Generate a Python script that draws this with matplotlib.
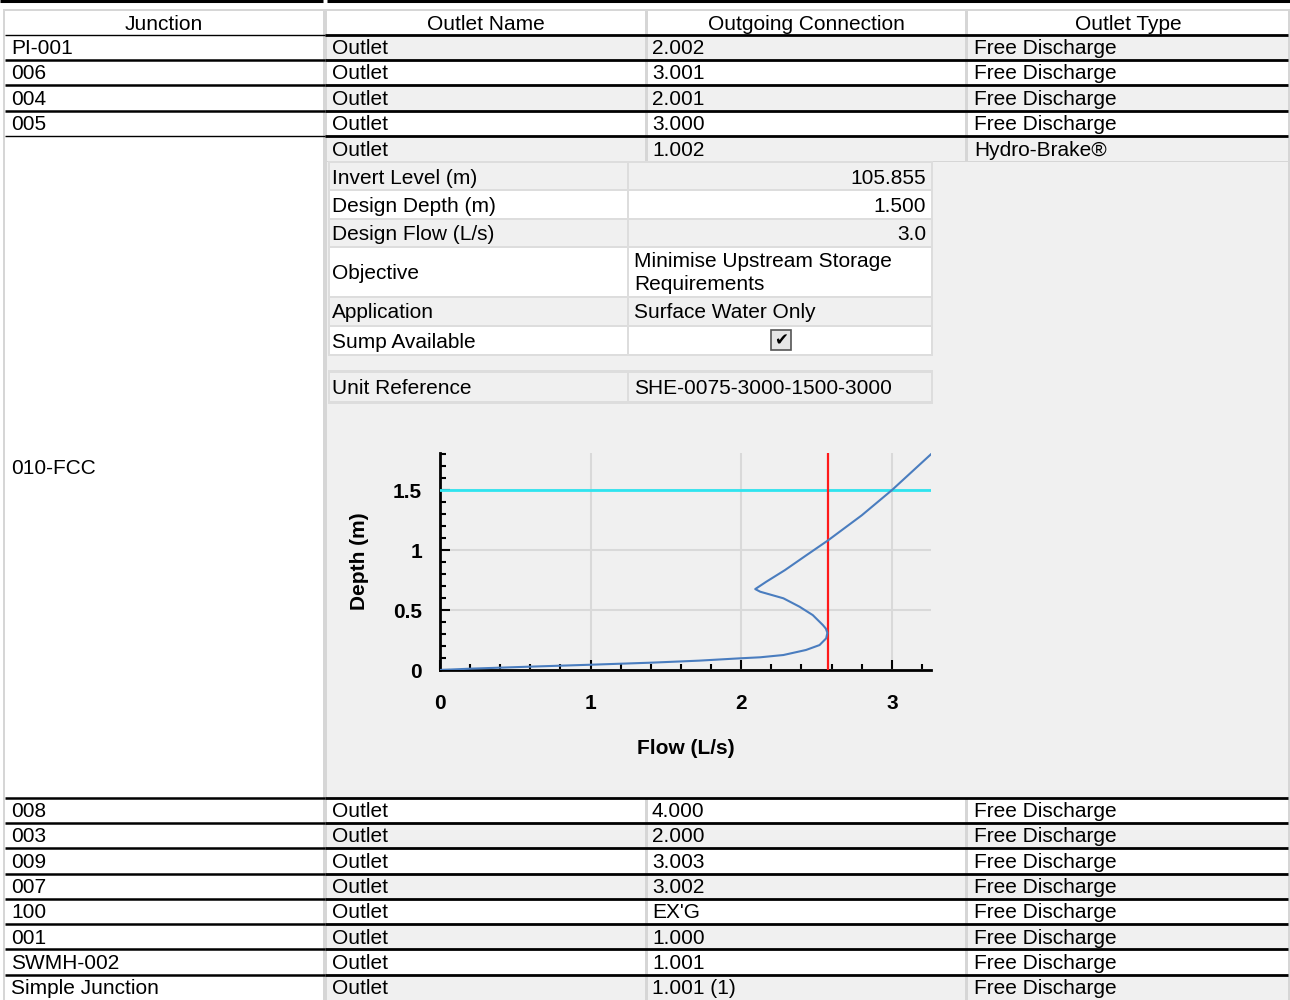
import matplotlib
matplotlib.use('Agg')
import matplotlib.pyplot as plt
from matplotlib.patches import Rectangle
from matplotlib.ticker import MultipleLocator, FuncFormatter

plt.rcParams['font.family'] = ['Liberation Sans', 'DejaVu Sans']

# ---------------- data ----------------
columns = ["Junction", "Outlet Name", "Outgoing Connection", "Outlet Type"]
junctions = ["PI-001", "006", "004", "005", "010-FCC", "008", "003", "009",
             "007", "100", "001", "SWMH-002", "Simple Junction"]
outlet_names = ["Outlet", "Outlet", "Outlet", "Outlet", "Outlet", "Outlet", "Outlet",
                "Outlet", "Outlet", "Outlet", "Outlet", "Outlet", "Outlet"]
connections = ["2.002", "3.001", "2.001", "3.000", "1.002", "4.000", "2.000",
               "3.003", "3.002", "EX'G", "1.000", "1.001", "1.001 (1)"]
outlet_types = ["Free Discharge", "Free Discharge", "Free Discharge", "Free Discharge",
                "Hydro-Brake®", "Free Discharge", "Free Discharge", "Free Discharge",
                "Free Discharge", "Free Discharge", "Free Discharge", "Free Discharge",
                "Free Discharge"]

detail_labels = ["Invert Level (m)", "Design Depth (m)", "Design Flow (L/s)",
                 "Objective", "Application", "Sump Available", "Unit Reference"]
detail_values = ["105.855", "1.500", "3.0",
                 "Minimise Upstream Storage\nRequirements", "Surface Water Only",
                 True, "SHE-0075-3000-1500-3000"]

curve_flow = [0.0, 0.2, 0.6, 1.0, 1.4, 1.72, 2.0, 2.126, 2.28, 2.43, 2.52, 2.564,
              2.572, 2.562, 2.542, 2.475, 2.387, 2.28, 2.126, 2.093, 2.166, 2.29,
              2.43, 2.575, 2.8, 3.0, 3.26]
curve_depth = [0.0, 0.011, 0.028, 0.044, 0.061, 0.078, 0.098, 0.106, 0.125, 0.167,
               0.208, 0.264, 0.31, 0.345, 0.375, 0.458, 0.528, 0.598, 0.653, 0.675,
               0.736, 0.833, 0.955, 1.08, 1.29, 1.50, 1.80]
design_depth_line = 1.5
flow_limit_line = 2.575

x_ticks = [0, 1, 2, 3]
y_ticks = [0, 0.5, 1, 1.5]

# ---------------- layout ----------------
W, H = 1290, 1000
GREY = '#f0f0f0'
SEP = '#d6d6d6'
FS = 15

fig = plt.figure(figsize=(W / 100, H / 100), dpi=100)
fig.patch.set_facecolor('white')
ax = fig.add_axes([0, 0, 1, 1])
ax.set_xlim(0, W)
ax.set_ylim(H, 0)
ax.axis('off')

def rect(x0, y0, x1, y1, color, z=1):
    ax.add_patch(Rectangle((x0, y0), x1 - x0, y1 - y0, facecolor=color,
                           edgecolor='none', zorder=z))

def hline(x0, x1, y, lw, color='black', z=5):
    ax.plot([x0, x1], [y, y], color=color, lw=lw, zorder=z, solid_capstyle='butt')

col_l = [5, 327, 648, 968]
col_r = [323, 645, 965, 1288]

# top rule and frame
hline(0, 323, 1.2, 2.2)
hline(327, W, 1.2, 2.2)
rect(3, 9, W, H, SEP, z=0)

# header
rect(3, 3, W, 9, 'white', z=0.5)
for i, name in enumerate(columns):
    rect(col_l[i], 11, col_r[i], 34.5, 'white')
    ax.text((col_l[i] + col_r[i]) / 2, 30, name, ha='center', va='baseline',
            fontsize=FS, zorder=6)

# rows
row_tops = [34.5, 59.9, 85.3, 110.7, 136.1, 797.6, 822.9, 848.2, 873.5,
            898.8, 924.1, 949.4, 974.7, 1000.0]
expanded = 4

for r in range(len(junctions)):
    top, bot = row_tops[r], row_tops[r + 1]
    shade = GREY if r % 2 == 0 else 'white'
    rect(col_l[0], top, col_r[0], bot, 'white')
    jlw = 1.0 if r in (0, expanded) else 1.8
    hline(col_l[0], 325, top, jlw)
    hline(325, col_r[3], top, 2.0)
    if r == expanded:
        sub_bot = 160.5
        ax.text(col_l[0] + 6, (top + bot) / 2 + 7.5, junctions[r], ha='left',
                va='baseline', fontsize=FS, zorder=6)
        for c in range(1, 4):
            rect(col_l[c], top + 1, col_r[c], sub_bot, GREY)
        rect(col_l[1], sub_bot + 1.5, col_r[3], bot, GREY)
    else:
        for c in range(1, 4):
            rect(col_l[c], top + 1, col_r[c], bot, shade)
        ax.text(col_l[0] + 6, top + 19.5, junctions[r], ha='left', va='baseline',
                fontsize=FS, zorder=6)
    base = top + 19.5
    ax.text(col_l[1] + 5, base, outlet_names[r], ha='left', va='baseline',
            fontsize=FS, zorder=6)
    ax.text(col_l[2] + 4, base, connections[r], ha='left', va='baseline',
            fontsize=FS, zorder=6)
    ax.text(col_l[3] + 6, base, outlet_types[r], ha='left', va='baseline',
            fontsize=FS, zorder=6)

# detail sub-table inside expanded row
d_l, d_m, d_r = 329, 627.5, 931
d_rows = [(162, 190), (190, 218.5), (218.5, 247), (247, 296.5), (296.5, 325.5),
          (325.5, 354.5), (371.5, 402)]
d_border = '#dddddd'
rect(d_l - 1, 161, d_r + 1.5, 356, d_border, z=1.5)
rect(d_l - 1, 370, d_r + 1.5, 403.5, d_border, z=1.5)
rect(d_l, 356, d_r, 370, GREY, z=1.6)
for i, (lab, val) in enumerate(zip(detail_labels, detail_values)):
    t, b = d_rows[i]
    shade = GREY if i % 2 == 0 else 'white'
    if i == 6:
        shade = GREY
    rect(d_l + 0.5, t + 1, d_m - 1, b - 1, shade, z=2)
    rect(d_m + 1, t + 1, d_r, b - 1, shade, z=2)
    cy = (t + b) / 2
    ax.text(d_l + 3, cy + 7.5, lab, ha='left', va='baseline', fontsize=FS, zorder=6)
    if val is True:
        ax.add_patch(Rectangle((771, cy - 10), 20, 20, facecolor='#e6e6e6',
                               edgecolor='#555555', lw=1.2, zorder=6))
        ax.text(781, cy + 0.5, '\u2714', ha='center', va='center', fontsize=12,
                family='DejaVu Sans', color='black', zorder=7)
    elif '\n' in val:
        ax.text(d_m + 7, cy + 1, val, ha='left', va='center', fontsize=FS,
                linespacing=1.27, zorder=6)
    elif i < 3:
        ax.text(d_r - 5, cy + 7.5, val, ha='right', va='baseline', fontsize=FS, zorder=6)
    else:
        ax.text(d_m + 7, cy + 7.5, val, ha='left', va='baseline', fontsize=FS, zorder=6)

# ---------------- embedded chart ----------------
px0, px1, py0, py1 = 440, 931, 670, 453
cax = fig.add_axes([px0 / W, (H - py0) / H, (px1 - px0) / W, (py0 - py1) / H])
cax.set_facecolor('none')
cax.set_xlim(0, 3.26)
cax.set_ylim(0, 1.81)
cax.set_xticks(x_ticks)
cax.set_yticks(y_ticks)
cax.xaxis.set_minor_locator(MultipleLocator(0.2))
cax.yaxis.set_minor_locator(MultipleLocator(0.1))
fmt = FuncFormatter(lambda v, p: f'{v:g}')
cax.xaxis.set_major_formatter(fmt)
cax.yaxis.set_major_formatter(fmt)
cax.grid(True, which='major', color='#d9d9d9', lw=1.5)
cax.set_axisbelow(True)
for s in ('top', 'right'):
    cax.spines[s].set_visible(False)
for s in ('left', 'bottom'):
    cax.spines[s].set_color('black')
    cax.spines[s].set_linewidth(2.0)
cax.tick_params(which='major', direction='in', length=7.5, width=1.5, labelsize=15)
cax.tick_params(which='minor', direction='in', length=4.5, width=1.5)
cax.tick_params(axis='x', which='major', pad=17)
cax.tick_params(axis='y', which='major', pad=13)
for lbl in cax.get_xticklabels() + cax.get_yticklabels():
    lbl.set_fontweight('bold')
cax.axhline(design_depth_line, color='#2fe4ef', lw=2.0, zorder=3)
cax.axvline(flow_limit_line, color='#ff1a1a', lw=1.6, zorder=3)
cax.plot(curve_flow, curve_depth, color='#4a7dbf', lw=1.5, zorder=4,
         solid_joinstyle='round')
cax.set_xlabel('Flow (L/s)', fontsize=15, fontweight='bold', labelpad=19)
cax.set_ylabel('Depth (m)', fontsize=15, fontweight='bold', labelpad=17)

fig.savefig('out.png', dpi=100, facecolor='white')
